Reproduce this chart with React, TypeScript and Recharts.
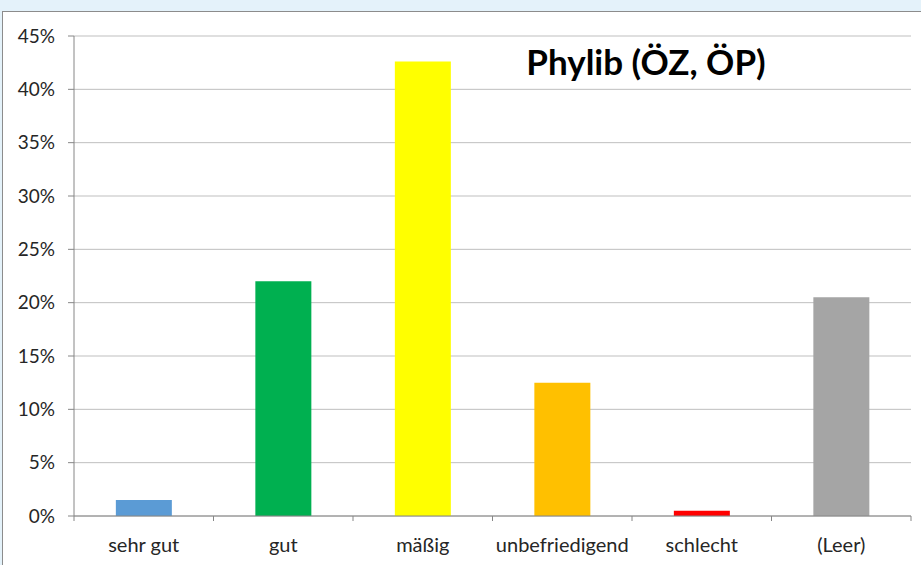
import { BarChart, Bar, XAxis, YAxis, CartesianGrid, Cell } from 'recharts';

const categories = ['sehr gut', 'gut', 'mäßig', 'unbefriedigend', 'schlecht', '(Leer)'];
const shares = [0.015, 0.22, 0.426, 0.125, 0.005, 0.205];
const barColors = ['#5B9BD5', '#00B050', '#FFFF00', '#FFC000', '#FF0000', '#A5A5A5'];
const yTicks = [0, 0.05, 0.1, 0.15, 0.2, 0.25, 0.3, 0.35, 0.4, 0.45];

const chartTitle = 'Phylib (ÖZ, ÖP)';
const font = 'Lato, "Open Sans", sans-serif';

const data = categories.map((name, i) => ({ name, value: shares[i] }));

// labels in the middle of each category, tick marks on the boundaries (Excel style)
function CategoryTick(props: any) {
  const { x, y, payload, index, visibleTicksCount } = props;
  const half = payload.offset ?? 0;
  const isLast = index === visibleTicksCount - 1;
  return (
    <g>
      <line x1={x - half} x2={x - half} y1={y} y2={y + 5} stroke="#868686" />
      {isLast && <line x1={x + half} x2={x + half} y1={y} y2={y + 5} stroke="#868686" />}
      <text x={x} y={y + 36} textAnchor="middle" fill="#262626" fontSize={20} fontFamily={font}>
        {payload.value}
      </text>
    </g>
  );
}

export default function App() {
  return (
    <div style={{ position: 'relative', width: 921, height: 565, background: '#e4f2fa', overflow: 'hidden' }}>
      <style>{'body{margin:0}'}</style>
      <div
        style={{
          position: 'absolute',
          left: 2,
          top: 11,
          width: 919,
          height: 554,
          background: '#fff',
          borderLeft: '1px solid #8c8c8c',
          borderTop: '1px solid #8c8c8c',
        }}
      />
      <div style={{ position: 'absolute', left: 0, top: 0 }}>
        <BarChart
          width={921}
          height={565}
          data={data}
          margin={{ top: 36, right: 10, left: 0, bottom: 0 }}
          barCategoryGap="30%"
        >
          <CartesianGrid vertical={false} stroke="#bfbfbf" />
          <XAxis
            dataKey="name"
            height={49}
            axisLine={{ stroke: '#868686' }}
            tickLine={false}
            tickSize={0}
            tickMargin={0}
            tick={<CategoryTick />}
            interval={0}
          />
          <YAxis
            width={74}
            domain={[0, 0.45]}
            ticks={yTicks}
            tickFormatter={(v: number) => `${Math.round(v * 100)}%`}
            axisLine={{ stroke: '#868686' }}
            tickLine={{ stroke: '#868686' }}
            tickSize={6}
            tickMargin={13}
            tick={{ fill: '#262626', fontSize: 19, fontFamily: font }}
          />
          <Bar dataKey="value" isAnimationActive={false}>
            {data.map((d, i) => (
              <Cell key={d.name} fill={barColors[i]} />
            ))}
          </Bar>
          <text x={646} y={75} textAnchor="middle" fontSize={35} fontWeight={700} fontFamily={font} fill="#000">
            {chartTitle}
          </text>
        </BarChart>
      </div>
    </div>
  );
}
